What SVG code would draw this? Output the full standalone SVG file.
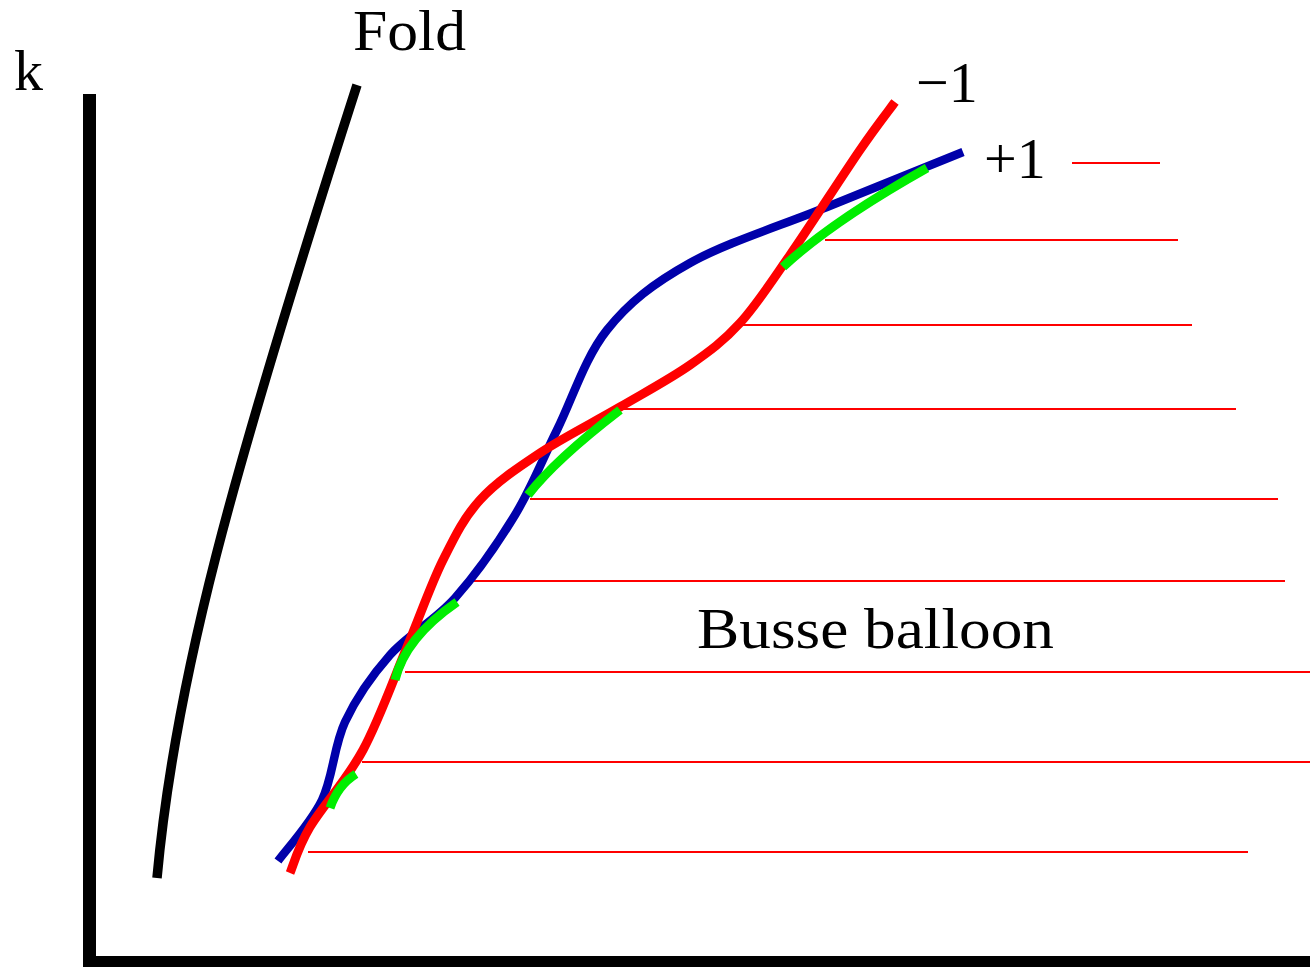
<svg xmlns="http://www.w3.org/2000/svg" width="1310" height="967" viewBox="0 0 1310 967">
<style>
.lbl{font-family:"Liberation Serif","Times New Roman",serif;fill:#000;font-size:58px}
.hl{stroke:#ff0000;stroke-width:2;fill:none}
.crv{fill:none;stroke-linecap:butt;stroke-linejoin:round}
.grn{fill:none;stroke:#00ee00;stroke-width:9;stroke-linecap:butt}
</style>
<rect width="1310" height="967" fill="#ffffff"/>
<g id="axes">
<rect x="83" y="94" width="13" height="873" fill="#000"/>
<rect x="83" y="956" width="1227" height="11" fill="#000"/>
</g>
<g id="hatch">
<line class="hl" x1="1072" y1="163" x2="1160" y2="163"/>
<line class="hl" x1="825" y1="240" x2="1178" y2="240"/>
<line class="hl" x1="740" y1="325" x2="1192" y2="325"/>
<line class="hl" x1="620" y1="409" x2="1236" y2="409"/>
<line class="hl" x1="530" y1="499" x2="1278" y2="499"/>
<line class="hl" x1="473" y1="581" x2="1285" y2="581"/>
<line class="hl" x1="405" y1="672" x2="1310" y2="672"/>
<line class="hl" x1="362" y1="762" x2="1310" y2="762"/>
<line class="hl" x1="308" y1="852" x2="1248" y2="852"/>
</g>
<g id="fold">
<path class="crv" stroke="#000" stroke-width="9.5" d="M157,878 C175,680 230,480 357,85"/>
</g>
<g id="plus1">
<path class="crv" stroke="#0000aa" stroke-width="8.5" d="M278,861 C285.3,850.8 310.8,823.2 322,800 C333.2,776.8 333.7,746.2 345,722 C356.3,697.8 371.7,675.7 390,655 C408.3,634.3 434.2,621.3 455,598 C475.8,574.7 498,543 515,515 C532,487 541.7,460.8 557,430 C572.3,399.2 584.8,357.8 607,330 C629.2,302.2 653.3,283.5 690,263 C726.7,242.5 781.5,225.5 827,207 C872.5,188.5 940.3,161.2 963,152"/>
</g>
<g id="minus1">
<path class="crv" stroke="#ff0000" stroke-width="9" d="M290,873 C293.3,865.3 297.8,847.5 310,827 C322.2,806.5 346.8,780 363,750 C379.2,720 393.7,678.7 407,647 C420.3,615.3 430.8,584.5 443,560 C455.2,535.5 463.8,517.8 480,500 C496.2,482.2 516.7,468.5 540,453 C563.3,437.5 595,421.7 620,407 C645,392.3 670,379 690,365 C710,351 723.3,341.3 740,323 C756.7,304.7 770,283.8 790,255 C810,226.2 842.5,175.5 860,150 C877.5,124.5 889.2,110 895,102"/>
</g>
<g id="stable">
<path class="grn" d="M330,808 Q338,785 356,774"/>
<path class="grn" d="M395,680 Q405,638 457,602"/>
<path class="grn" d="M528,495 Q555,460 620,410"/>
<path class="grn" d="M783,267 Q831,222 927,168"/>
</g>
<g id="labels">
<text class="lbl" x="14" y="90">k</text>
<text class="lbl" x="353" y="50" textLength="113" lengthAdjust="spacingAndGlyphs">Fold</text>
<text class="lbl" x="916" y="102">−1</text>
<text class="lbl" x="984" y="178">+1</text>
<text class="lbl" x="697" y="648" font-size="56" textLength="357" lengthAdjust="spacingAndGlyphs">Busse balloon</text>
</g>
</svg>
